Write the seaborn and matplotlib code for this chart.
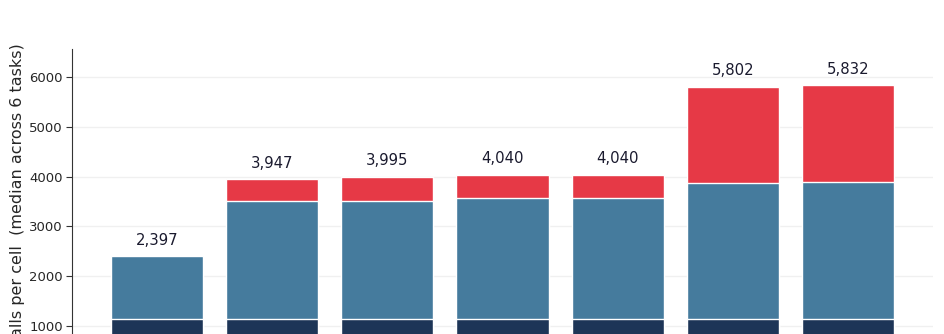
import matplotlib
matplotlib.use("Agg")
import matplotlib.pyplot as plt
import seaborn as sns

# values (stacked segments per configuration)
configs = ["A", "B", "C", "D", "E", "F", "G"]
base_calls = [1140, 1140, 1140, 1140, 1140, 1140, 1140]
mid_calls = [1257, 2370, 2376, 2424, 2424, 2725, 2752]
top_calls = [0, 437, 479, 476, 476, 1937, 1940]

NAVY = "#1d3557"
BLUE = "#457b9d"
RED = "#e63946"

sns.set_style("white")
plt.rcParams["font.family"] = ["DejaVu Sans"]

fig = plt.figure(figsize=(9.44, 3.34), dpi=100)
# the original is a crop of a taller figure, so the axes run off the bottom
ax = fig.add_axes([72 / 944, (334 - 375.8) / 334, 861 / 944, 326.8 / 334])

mid_cum = [b + m for b, m in zip(base_calls, mid_calls)]
totals = [c + t for c, t in zip(mid_cum, top_calls)]

# draw back to front: total (red), base+mid (blue), base (navy)
for vals, col in [(totals, RED), (mid_cum, BLUE), (base_calls, NAVY)]:
    sns.barplot(x=configs, y=vals, color=col, width=0.8, edgecolor="white",
                linewidth=1, saturation=1, ax=ax)

for i, tot in enumerate(totals):
    ax.annotate(f"{tot:,}", (i, tot), xytext=(0, 6), textcoords="offset points",
                ha="center", va="bottom", fontsize=10.7, color="#1a1a2e")

ax.set_xlim(-0.74, 6.74)
ax.tick_params(axis="x", labelbottom=False, bottom=False)
ax.set_xlabel("")
ax.set_ylim(0, max(totals) * 1.125)
ax.set_yticks([0, 1000, 2000, 3000, 4000, 5000, 6000])
ax.tick_params(axis="y", labelsize=9.5, length=4, width=0.8, pad=2.5, left=True,
               color="#333333")
ax.set_ylabel("Tool calls per cell  (median across 6 tasks)", fontsize=11.5, labelpad=3)
ax.yaxis.grid(True, color="#f0f0f0", linewidth=1)
ax.set_axisbelow(True)
sns.despine(ax=ax, top=True, right=True)
ax.spines["left"].set_color("#333333")

fig.savefig("out.png", dpi=100)
